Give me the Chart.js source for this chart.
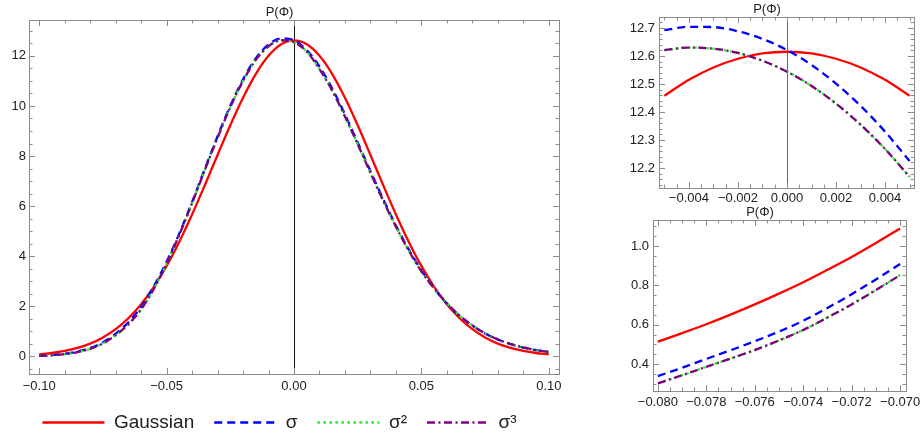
<!DOCTYPE html>
<html>
<head>
<meta charset="utf-8">
<script src="https://cdn.jsdelivr.net/npm/chart.js@4.4.1/dist/chart.umd.min.js"></script>
<style>
  html, body { margin: 0; padding: 0; background: #fff; width: 924px; height: 435px; overflow: hidden; }
  canvas { position: absolute; }
  #main { left: 0; top: 0; }
  #zoomTop { left: 620px; top: 0; }
  #zoomBot { left: 610px; top: 200px; }
</style>
</head>
<body>
<canvas id="main" width="570" height="442"></canvas>
<canvas id="zoomTop" width="304" height="210"></canvas>
<canvas id="zoomBot" width="314" height="235"></canvas>
<script>
// ---- main panel: P(Phi) over the full range
const xMain = [-0.1, -0.095, -0.09, -0.085, -0.08, -0.075, -0.07, -0.065, -0.06, -0.055, -0.05,
  -0.045, -0.04, -0.035, -0.03, -0.025, -0.02, -0.015, -0.01, -0.005, 0,
  0.005, 0.01, 0.015, 0.02, 0.025, 0.03, 0.035, 0.04, 0.045, 0.05,
  0.055, 0.06, 0.065, 0.07, 0.075, 0.08, 0.085, 0.09, 0.095, 0.1];
const gaussMain = [0.085, 0.138, 0.220, 0.340, 0.514, 0.758, 1.089, 1.526, 2.085, 2.780, 3.614,
  4.583, 5.668, 6.837, 8.044, 9.229, 10.328, 11.273, 12.000, 12.458, 12.615,
  12.458, 12.000, 11.273, 10.328, 9.229, 8.044, 6.837, 5.668, 4.583, 3.614,
  2.780, 2.085, 1.526, 1.089, 0.758, 0.514, 0.340, 0.220, 0.138, 0.085];
const sigma1Main = [0.028, 0.056, 0.106, 0.195, 0.339, 0.565, 0.908, 1.36, 1.98, 2.80, 3.78,
  4.91, 6.17, 7.49, 8.79, 10.01, 11.06, 11.90, 12.45, 12.692, 12.62,
  12.225, 11.57, 10.69, 9.66, 8.54, 7.40, 6.28, 5.23, 4.28, 3.44,
  2.72, 2.11, 1.62, 1.23, 0.916, 0.675, 0.493, 0.357, 0.254, 0.18];
const sigma2Main = [0.024, 0.049, 0.093, 0.172, 0.302, 0.52, 0.852, 1.28, 1.88, 2.70, 3.70,
  4.86, 6.12, 7.44, 8.73, 9.95, 11.00, 11.84, 12.38, 12.621, 12.544,
  12.169, 11.47, 10.61, 9.58, 8.47, 7.33, 6.22, 5.18, 4.23, 3.40,
  2.72, 2.12, 1.63, 1.24, 0.925, 0.68, 0.497, 0.36, 0.256, 0.18];
const sigma3Main = [0.024, 0.049, 0.093, 0.172, 0.302, 0.52, 0.852, 1.28, 1.88, 2.70, 3.70,
  4.86, 6.12, 7.44, 8.73, 9.95, 11.00, 11.84, 12.38, 12.621, 12.544,
  12.169, 11.47, 10.61, 9.58, 8.47, 7.33, 6.22, 5.18, 4.23, 3.40,
  2.72, 2.12, 1.63, 1.24, 0.925, 0.68, 0.497, 0.36, 0.256, 0.18];
const xMainTicks = [-0.1, -0.05, 0, 0.05, 0.1];
const xMainLabels = ['\u22120.10', '\u22120.05', '0.00', '0.05', '0.10'];
const yMainTicks = [0, 2, 4, 6, 8, 10, 12];
const yMainLabels = ['0', '2', '4', '6', '8', '10', '12'];

// ---- top right zoom: around the peak
const xTop = [-0.005, -0.004, -0.003, -0.002, -0.001, 0, 0.001, 0.002, 0.003, 0.004, 0.005];
const gaussTop = [12.458, 12.515, 12.559, 12.590, 12.609, 12.615, 12.609, 12.590, 12.559, 12.515, 12.458];
const sigma1Top = [12.692, 12.704, 12.703, 12.688, 12.661, 12.621, 12.568, 12.501, 12.422, 12.330, 12.225];
const sigma2Top = [12.621, 12.630, 12.626, 12.611, 12.583, 12.544, 12.493, 12.430, 12.355, 12.268, 12.169];
const sigma3Top = [12.621, 12.630, 12.626, 12.611, 12.583, 12.544, 12.493, 12.430, 12.355, 12.268, 12.169];
const xTopTicks = [-0.004, -0.002, 0, 0.002, 0.004];
const xTopLabels = ['\u22120.004', '\u22120.002', '0.000', '0.002', '0.004'];
const yTopTicks = [12.2, 12.3, 12.4, 12.5, 12.6, 12.7];
const yTopLabels = ['12.2', '12.3', '12.4', '12.5', '12.6', '12.7'];

// ---- bottom right zoom: left tail
const xBot = [-0.08, -0.079, -0.078, -0.077, -0.076, -0.075, -0.074, -0.073, -0.072, -0.071, -0.07];
const gaussBot = [0.514, 0.557, 0.602, 0.651, 0.703, 0.758, 0.816, 0.879, 0.944, 1.015, 1.089];
const sigma1Bot = [0.339, 0.381, 0.426, 0.47, 0.516, 0.565, 0.62, 0.685, 0.755, 0.83, 0.908];
const sigma2Bot = [0.302, 0.343, 0.386, 0.428, 0.471, 0.52, 0.573, 0.636, 0.703, 0.776, 0.852];
const sigma3Bot = [0.302, 0.343, 0.386, 0.428, 0.471, 0.52, 0.573, 0.636, 0.703, 0.776, 0.852];
const xBotTicks = [-0.08, -0.078, -0.076, -0.074, -0.072, -0.07];
const xBotLabels = ['\u22120.080', '\u22120.078', '\u22120.076', '\u22120.074', '\u22120.072', '\u22120.070'];
const yBotTicks = [0.4, 0.6, 0.8, 1.0];
const yBotLabels = ['0.4', '0.6', '0.8', '1.0'];

const seriesNames = ['Gaussian', '\u03c3', '\u03c3\u00b2', '\u03c3\u00b3'];

Chart.defaults.font.family = "'Liberation Sans', Arial, sans-serif";
Chart.defaults.color = '#222';

function steps(from, to, step) {
  const out = [];
  for (let v = from; v <= to + step / 2; v += step) out.push(+v.toFixed(6));
  return out;
}

// Mathematica-like frame: grey box with inward ticks on all four sides,
// plus the vertical axis line at x = 0
const framePlugin = {
  id: 'frame',
  beforeDatasetsDraw(chart, args, opts) {
    const {ctx, chartArea: a, scales: {x}} = chart;
    if (x.min < 0 && x.max > 0) {
      const px = Math.round(x.getPixelForValue(0)) + 0.5;
      ctx.save();
      ctx.strokeStyle = opts.axisColor;
      ctx.lineWidth = 1;
      ctx.beginPath();
      ctx.moveTo(px, a.top);
      ctx.lineTo(px, a.bottom);
      ctx.stroke();
      ctx.restore();
    }
  },
  afterDatasetsDraw(chart, args, opts) {
    const {ctx, chartArea: a, scales: {x, y}} = chart;
    ctx.save();
    ctx.strokeStyle = '#8c8c8c';
    ctx.lineWidth = 1;
    ctx.beginPath();
    const tickX = (vals, len) => vals.forEach(v => {
      if (v < x.min || v > x.max) return;
      const px = Math.round(x.getPixelForValue(v)) + 0.5;
      ctx.moveTo(px, a.bottom); ctx.lineTo(px, a.bottom - len);
      ctx.moveTo(px, a.top); ctx.lineTo(px, a.top + len);
    });
    const tickY = (vals, len) => vals.forEach(v => {
      if (v < y.min || v > y.max) return;
      const py = Math.round(y.getPixelForValue(v)) + 0.5;
      ctx.moveTo(a.left, py); ctx.lineTo(a.left + len, py);
      ctx.moveTo(a.right, py); ctx.lineTo(a.right - len, py);
    });
    tickX(opts.xMajor, 6); tickX(opts.xMinor, 3.5);
    tickY(opts.yMajor, 6); tickY(opts.yMinor, 3.5);
    ctx.stroke();
    ctx.strokeRect(Math.round(a.left) + 0.5, Math.round(a.top) + 0.5,
      Math.round(a.right - a.left), Math.round(a.bottom - a.top));
    ctx.restore();
  }
};

function makeDatasets(xs, g, s1, s2, s3) {
  const pts = ys => xs.map((v, i) => ({x: v, y: ys[i]}));
  // drawn last-to-first, so the first dataset ends up on top
  return [
    {label: seriesNames[3], data: pts(s3), borderColor: '#800080', borderWidth: 2.3, borderDash: [8, 3.5, 2, 3.5]},
    {label: seriesNames[2], data: pts(s2), borderColor: '#22ee22', borderWidth: 2.3, borderDash: [2.5, 3.5]},
    {label: seriesNames[1], data: pts(s1), borderColor: '#0000ff', borderWidth: 2.3, borderDash: [8, 5]},
    {label: seriesNames[0], data: pts(g), borderColor: '#ff0000', borderWidth: 2.3}
  ];
}

// legend samples: take dash and colour from the dataset line, not from its points
function legendLabels(chart) {
  return Chart.defaults.plugins.legend.labels.generateLabels(chart).map(item => {
    const ds = chart.data.datasets[item.datasetIndex];
    item.lineDash = ds.borderDash || [];
    item.strokeStyle = ds.borderColor;
    item.fillStyle = ds.borderColor;
    item.lineWidth = 2.3;
    item.lineCap = 'butt';
    return item;
  });
}

function makeChart(id, cfg) {
  const datasets = makeDatasets(cfg.xs, cfg.g, cfg.s1, cfg.s2, cfg.s3);
  datasets.forEach(d => {
    d.pointRadius = 0;
    d.fill = false;
    d.cubicInterpolationMode = 'monotone';
    d.borderCapStyle = 'butt';
  });
  return new Chart(document.getElementById(id), {
    type: 'line',
    data: {datasets},
    plugins: [framePlugin],
    options: {
      responsive: false,
      animation: false,
      events: [],
      layout: {padding: cfg.padding},
      scales: {
        x: {
          type: 'linear', min: cfg.xRange[0], max: cfg.xRange[1],
          grid: {display: false, drawTicks: false}, border: {display: false},
          afterBuildTicks: s => { s.ticks = cfg.xTicks.map(v => ({value: v})); },
          afterFit: s => { s.height = cfg.xHeight; },
          ticks: {autoSkip: false, maxRotation: 0, padding: cfg.xPad, color: '#222',
            font: {size: 13}, callback: (v, i) => cfg.xLabels[i]}
        },
        y: {
          type: 'linear', min: cfg.yRange[0], max: cfg.yRange[1],
          grid: {display: false, drawTicks: false}, border: {display: false},
          afterBuildTicks: s => { s.ticks = cfg.yTicks.map(v => ({value: v})); },
          afterFit: s => { s.width = cfg.yWidth; },
          ticks: {autoSkip: false, padding: cfg.yPad, color: '#222',
            font: {size: 13}, callback: (v, i) => cfg.yLabels[i]}
        }
      },
      plugins: {
        tooltip: {enabled: false},
        title: {display: true, text: 'P(\u03a6)', color: '#222',
          font: {size: 13, weight: 'normal'}, padding: {top: cfg.titleTop, bottom: 0}},
        legend: cfg.legend ? {
          display: true, position: 'bottom',
          labels: {usePointStyle: true, pointStyle: 'line', pointStyleWidth: 62,
            padding: 20, color: '#222', font: {size: 19},
            generateLabels: legendLabels,
            sort: (a, b) => b.datasetIndex - a.datasetIndex}
        } : {display: false},
        frame: {axisColor: cfg.axisColor, xMajor: cfg.xTicks, xMinor: cfg.xMinor,
          yMajor: cfg.yTicks, yMinor: cfg.yMinor}
      }
    }
  });
}

makeChart('main', {
  xs: xMain, g: gaussMain, s1: sigma1Main, s2: sigma2Main, s3: sigma3Main,
  xRange: [-0.104, 0.104], yRange: [-0.7, 13.43],
  xTicks: xMainTicks, xLabels: xMainLabels, yTicks: yMainTicks, yLabels: yMainLabels,
  xMinor: steps(-0.1, 0.1, 0.01), yMinor: steps(-0.5, 13, 0.5),
  padding: {left: 0, right: 11, top: 0, bottom: 0},
  titleTop: 4.4, xHeight: 19, yWidth: 29, xPad: 5, yPad: 3,
  axisColor: '#111', legend: true
});

makeChart('zoomTop', {
  xs: xTop, g: gaussTop, s1: sigma1Top, s2: sigma2Top, s3: sigma3Top,
  xRange: [-0.00522, 0.00518], yRange: [12.129, 12.739],
  xTicks: xTopTicks, xLabels: xTopLabels, yTicks: yTopTicks, yLabels: yTopLabels,
  xMinor: steps(-0.005, 0.005, 0.0005), yMinor: steps(12.14, 12.72, 0.02),
  padding: {left: 0, right: 10, top: 0, bottom: 0},
  titleTop: 1.4, xHeight: 22, yWidth: 39, xPad: 3, yPad: 4,
  axisColor: '#666', legend: false
});

makeChart('zoomBot', {
  xs: xBot, g: gaussBot, s1: sigma1Bot, s2: sigma2Bot, s3: sigma3Bot,
  xRange: [-0.0802, -0.06976], yRange: [0.263, 1.132],
  xTicks: xBotTicks, xLabels: xBotLabels, yTicks: yBotTicks, yLabels: yBotLabels,
  xMinor: steps(-0.08, -0.07, 0.0005), yMinor: steps(0.3, 1.1, 0.05),
  padding: {left: 0, right: 14, top: 0, bottom: 0},
  titleTop: 4.4, xHeight: 44, yWidth: 43, xPad: 3.5, yPad: 4,
  axisColor: '#666', legend: false
});
</script>
</body>
</html>
